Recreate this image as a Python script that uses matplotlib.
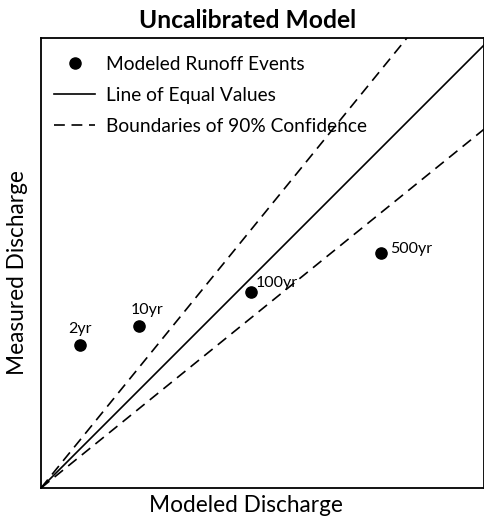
import matplotlib
matplotlib.use("Agg")
import matplotlib.pyplot as plt
from matplotlib.lines import Line2D

plt.rcParams['font.family'] = ['Lato', 'DejaVu Sans']

# Data (relative units)
events = ["2yr", "10yr", "100yr", "500yr"]
modeled = [8.8, 22.1, 47.4, 76.7]
measured = [32.3, 36.6, 44.2, 53.0]
upper_slope = 1.23
lower_slope = 0.81

XMAX = 100.0
YMAX = 101.6

fig = plt.figure(figsize=(4.85, 5.17), dpi=100)
W, H = 485, 517
ax = fig.add_axes([41 / W, 1 - 488 / H, 443 / W, 450 / H])
ax.set_xlim(0, XMAX)
ax.set_ylim(0, YMAX)
ax.set_xticks([])
ax.set_yticks([])
for s in ax.spines.values():
    s.set_linewidth(1.3)
    s.set_color('black')

xs = [0, XMAX]
dash = (0, (6.5, 4))
ax.plot(xs, [0, XMAX], color='black', lw=1.2)
ax.plot(xs, [0, XMAX * upper_slope], color='black', lw=1.2, linestyle=dash)
ax.plot(xs, [0, XMAX * lower_slope], color='black', lw=1.2, linestyle=dash)

ax.scatter(modeled, measured, s=65, color='black', zorder=3)

offsets = {"2yr": (-2.7, 2.0), "10yr": (-1.9, 1.9),
           "100yr": (1.1, 0.4), "500yr": (2.0, -0.6)}
for name, x, y in zip(events, modeled, measured):
    dx, dy = offsets[name]
    ax.text(x + dx, y + dy, name, fontsize=11.5, ha='left', va='bottom')

handles = [
    Line2D([], [], marker='o', color='black', linestyle='none', markersize=8),
    Line2D([], [], color='black', lw=1.2),
    Line2D([], [], color='black', lw=1.2, linestyle=(0, (6.5, 4))),
]
labels = ["Modeled Runoff Events", "Line of Equal Values", "Boundaries of 90% Confidence"]
ax.legend(handles, labels, loc='upper left', bbox_to_anchor=(0.0, 0.99),
          frameon=False, fontsize=13.8, handlelength=2.13, handletextpad=0.57,
          labelspacing=0.72, borderaxespad=0.3)

fig.text(248 / W, 1 - 20 / H, "Uncalibrated Model", fontsize=17.7, fontweight='bold',
         ha='center', va='center')
fig.text(246 / W, 1 - 506 / H, "Modeled Discharge", fontsize=16.3, ha='center', va='center')
fig.text(18 / W, 1 - 273 / H, "Measured Discharge", fontsize=16.3, ha='center', va='center',
         rotation=90)

fig.savefig("out.png", dpi=100)
